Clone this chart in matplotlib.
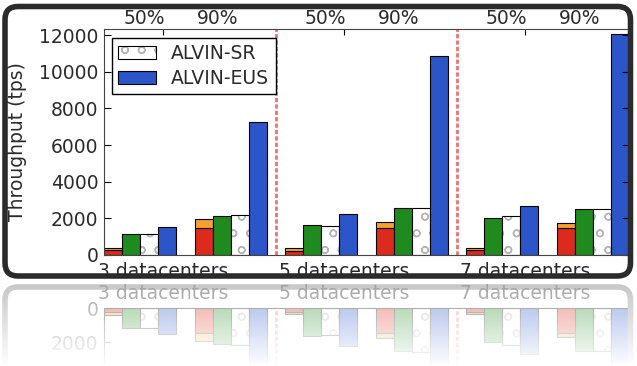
import numpy as np
import matplotlib
matplotlib.use('Agg')
import matplotlib.pyplot as plt
from matplotlib.patches import FancyBboxPatch

# six groups: (3, 5, 7 datacenters) x (50%, 90%)
red_vals = [250, 1470, 230, 1490, 250, 1455]
orange_vals = [400, 1960, 360, 1780, 370, 1730]   # top of the stacked red/orange bar
green_vals = [1150, 2130, 1640, 2550, 2000, 2510]
sr_vals = [1150, 2180, 1600, 2580, 2150, 2520]
eus_vals = [1550, 7270, 2240, 10860, 2700, 12050]

section_labels = ['3 datacenters', '5 datacenters', '7 datacenters']
load_labels = ['50%', '90%']
yticks = [0, 2000, 4000, 6000, 8000, 10000, 12000]

RED = '#dc2b1c'
ORANGE = '#f3a030'
GREEN = '#1f8b1f'
BLUE = '#2b55c9'
TXT = '#2a2a2a'
FS = 13.5

W, H = 637, 366


def px_axes(fig, x0, x1, ytop, ybot):
    return fig.add_axes([x0 / W, 1 - ybot / H, (x1 - x0) / W, (ybot - ytop) / H])


def draw_bars(ax):
    left = np.array([10 * (i // 2) + 5 * (i % 2) for i in range(len(red_vals))])
    red = np.array(red_vals)
    orange = np.array(orange_vals)
    kw = dict(width=1, align='edge', edgecolor='black', linewidth=0.8)
    ax.bar(left, red, color=RED, **kw)
    ax.bar(left, orange - red, bottom=red, color=ORANGE, **kw)
    ax.bar(left + 1, green_vals, color=GREEN, **kw)
    sr_h = ax.bar(left + 2, sr_vals, width=1, align='edge', color='white',
                  edgecolor='#b5b5b5', hatch='o', linewidth=0)
    sr_e = ax.bar(left + 2, sr_vals, fill=False, **kw)
    eus = ax.bar(left + 3, eus_vals, color=BLUE, **kw)
    for x in [9.5, 19.5]:
        ax.axvline(x, color='#f07070', lw=2.0, ls=(0, (1.5, 0.8)), zorder=0.5)
    ax.set_xlim(0, 29)
    return sr_h, sr_e, eus


fig = plt.figure(figsize=(W / 100, H / 100), dpi=100)

# main chart
ax = px_axes(fig, 104, 629, 29, 255)
sr_h, sr_e, eus = draw_bars(ax)
ax.set_ylim(0, 12330)
ax.set_yticks(yticks)
ax.tick_params(axis='y', direction='in', length=5, width=0.8, pad=4,
               labelsize=FS, labelcolor=TXT, right=True)
sec_pos = [3.25 + 10 * s for s in range(3)]
ax.set_xticks(sec_pos, section_labels)
ax.tick_params(axis='x', bottom=False, top=True, direction='in', length=4,
               width=0.8, labelsize=FS, labelcolor=TXT, pad=5)
top = ax.secondary_xaxis('top')
top_pos = [10 * s + 4 * g + 2.25 for s in range(3) for g in range(2)]
top.set_xticks(top_pos, load_labels * 3)
top.tick_params(length=0, pad=1, labelsize=FS, labelcolor=TXT)
top.spines['top'].set_visible(False)
for sp in ax.spines.values():
    sp.set_color('#444444')
ax.set_ylabel('Throughput (tps)', fontsize=FS, color=TXT)
ax.yaxis.set_label_coords(-0.147, 0.5)
ax.legend([(sr_h, sr_e), eus], ['ALVIN-SR', 'ALVIN-EUS'], loc='upper left',
          bbox_to_anchor=(0.015, 0.962), borderaxespad=0, fontsize=FS,
          handlelength=2.0, handleheight=0.7, fancybox=False, framealpha=1,
          edgecolor='black', labelcolor=TXT, borderpad=0.35, labelspacing=0.3)

# reflection below the frame
rax = px_axes(fig, 104, 629, 308, 366)
draw_bars(rax)
rax.set_ylim(3410, 0)
rax.set_yticks([0, 2000])
rax.tick_params(axis='y', direction='in', length=5, pad=4, labelsize=FS, labelcolor=TXT)
rax.set_xticks([])
for name in ['right', 'bottom']:
    rax.spines[name].set_visible(False)
for i, lab in enumerate(section_labels):
    fig.text((sec_pos[i] * (525 / 29) + 104) / W, 1 - 303 / H, lab,
             fontsize=FS, color=TXT, ha='center', va='bottom')

refl_frame = FancyBboxPatch((0.05, 366 / 100 - 287 / 100 - 2.695), 6.255, 2.695,
                            boxstyle='round,pad=0,rounding_size=0.13',
                            transform=fig.dpi_scale_trans, facecolor='none',
                            edgecolor='#808080', linewidth=4, zorder=2)
fig.add_artist(refl_frame)

# white fade over the reflection
fade = fig.add_axes([0, 0, 1, (366 - 281) / H], zorder=5)
ramp = np.ones((100, 1, 4))
ramp[:, 0, 3] = np.linspace(1.0, 0.55, 100)
fade.imshow(ramp, aspect='auto', extent=[0, 1, 0, 1], origin='lower')
fade.set_axis_off()

# rounded black frame around the chart
frame = FancyBboxPatch((0.05, 366 / 100 - 2.76), 6.255, 2.695,
                       boxstyle='round,pad=0,rounding_size=0.13',
                       transform=fig.dpi_scale_trans, facecolor='none',
                       edgecolor='#2b2b2b', linewidth=4, zorder=10)
fig.add_artist(frame)

fig.savefig('out.png', dpi=100)
